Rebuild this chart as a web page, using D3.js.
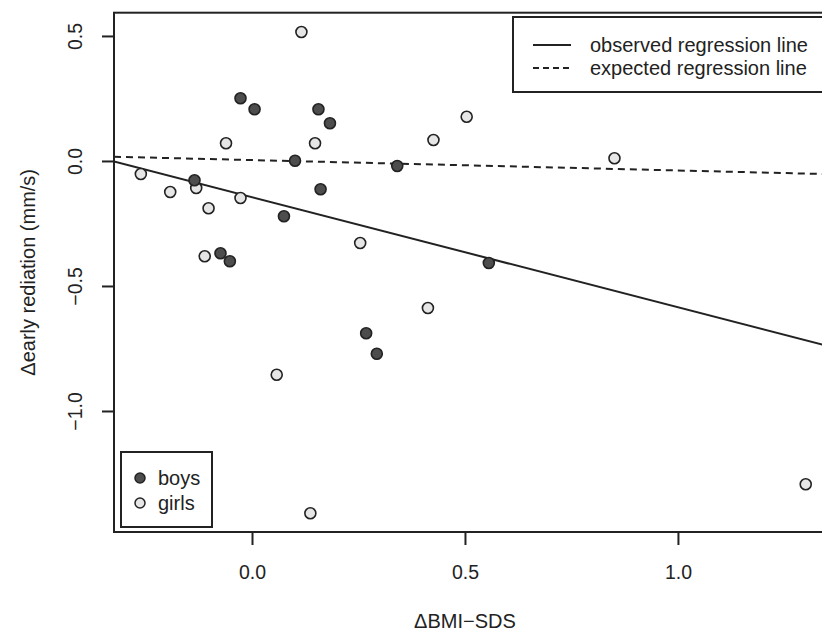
<!DOCTYPE html>
<html>
<head>
<meta charset="utf-8">
<script src="https://cdn.jsdelivr.net/npm/d3@7"></script>
<style>
  body { margin: 0; background: #fff; }
  svg { font-family: "Liberation Sans", Arial, sans-serif; }
</style>
</head>
<body>
<div class="chart"></div>
<script>
// boys
const boysX = [-0.027, 0.006, 0.156, 0.183, 0.101, -0.135, 0.161, 0.341, 0.075, -0.074, -0.052, 0.556, 0.268, 0.293];
const boysY = [0.251, 0.207, 0.207, 0.151, 0.001, -0.077, -0.113, -0.020, -0.221, -0.369, -0.401, -0.408, -0.689, -0.771];
// girls
const girlsX = [0.116, -0.061, 0.148, -0.261, -0.192, -0.131, -0.027, 0.504, 0.426, -0.102, 0.254, -0.111, 0.413, 0.058, 0.137, 0.851, 1.300];
const girlsY = [0.516, 0.071, 0.071, -0.052, -0.124, -0.108, -0.148, 0.177, 0.084, -0.189, -0.328, -0.381, -0.588, -0.855, -1.409, 0.011, -1.293];

// regression lines: intercept, slope
const observedLine = [-0.145, -0.44];
const expectedLine = [0.0035, -0.0415];

const xTicks = [0, 0.5, 1.0];
const yTicks = [0.5, 0, -0.5, -1.0];

const xDomain = [-0.324, 1.357];
const yDomain = [-1.484, 0.593];

const svgwidth = 822, svgheight = 631;
const margin = {top: 12.7, right: -8, bottom: 99, left: 114};
const width = svgwidth - margin.left - margin.right;
const height = svgheight - margin.top - margin.bottom;
const ink = "#222";

const svg = d3.select(".chart").append("svg")
    .attr("width", svgwidth)
    .attr("height", svgheight);

const g = svg.append("g")
    .attr("transform", `translate(${margin.left},${margin.top})`);

const xScale = d3.scaleLinear().domain(xDomain).range([0, width]);
const yScale = d3.scaleLinear().domain(yDomain).range([height, 0]);

g.append("clipPath").attr("id", "plotclip")
  .append("rect").attr("width", width).attr("height", height);

// regression lines
const lineOf = p => xDomain.map(x => [xScale(x), yScale(p[0] + p[1] * x)]);
g.append("path")
    .attr("clip-path", "url(#plotclip)")
    .attr("d", d3.line()(lineOf(observedLine)))
    .attr("stroke", ink).attr("stroke-width", 2).attr("fill", "none");
g.append("path")
    .attr("clip-path", "url(#plotclip)")
    .attr("d", d3.line()(lineOf(expectedLine)))
    .attr("stroke", ink).attr("stroke-width", 2).attr("stroke-dasharray", "7,5").attr("fill", "none");

// points
const girls = girlsX.map((x, i) => ({x: x, y: girlsY[i]}));
const boys = boysX.map((x, i) => ({x: x, y: boysY[i]}));

g.selectAll("circle.girl")
    .data(girls).enter().append("circle")
    .attr("class", "girl")
    .attr("cx", d => xScale(d.x)).attr("cy", d => yScale(d.y))
    .attr("r", 5.5).attr("fill", "#e6e6e6")
    .attr("stroke", ink).attr("stroke-width", 1.6);

g.selectAll("circle.boy")
    .data(boys).enter().append("circle")
    .attr("class", "boy")
    .attr("cx", d => xScale(d.x)).attr("cy", d => yScale(d.y))
    .attr("r", 5.5).attr("fill", "#4d4d4d")
    .attr("stroke", ink).attr("stroke-width", 1.6);

// box
g.append("rect")
    .attr("width", width).attr("height", height)
    .attr("fill", "none").attr("stroke", ink).attr("stroke-width", 2);

// axes
const xAxis = d3.axisBottom(xScale).tickValues(xTicks).tickFormat(d3.format(".1f")).tickSize(13).tickPadding(20);
const yAxis = d3.axisLeft(yScale).tickValues(yTicks).tickFormat(d3.format(".1f")).tickSize(12);

const gx = g.append("g").attr("transform", `translate(0,${height})`).call(xAxis);
gx.select(".domain").remove();
gx.selectAll("line").attr("stroke", ink).attr("stroke-width", 2);
gx.selectAll("text").attr("font-size", 19.5).attr("fill", ink)
  .attr("font-family", "Liberation Sans, Arial, sans-serif");

const gy = g.append("g").call(yAxis);
gy.select(".domain").remove();
gy.selectAll("line").attr("stroke", ink).attr("stroke-width", 2);
gy.selectAll("text").remove();
gy.selectAll(".tick").append("text")
    .attr("transform", "translate(-32,0) rotate(-90)")
    .attr("text-anchor", "middle")
    .attr("font-size", 19.5).attr("fill", ink)
    .attr("font-family", "Liberation Sans, Arial, sans-serif")
    .text(d => d3.format(".1f")(d).replace("-", "\u2212"));

// axis titles
svg.append("text")
    .attr("x", margin.left + xScale(0.5)).attr("y", 628)
    .attr("text-anchor", "middle").attr("font-size", 20).attr("fill", ink)
    .text("\u0394BMI\u2212SDS");

svg.append("text")
    .attr("transform", `translate(35,${margin.top + height / 2}) rotate(-90)`)
    .attr("text-anchor", "middle").attr("font-size", 20).attr("fill", ink)
    .text("\u0394early rediation (mm/s)");

// legend: lines (top right)
const lineLegend = [{label: "observed regression line", dash: null}, {label: "expected regression line", dash: "6,4"}];
const lg = svg.append("g");
lg.append("rect").attr("x", 513).attr("y", 17).attr("width", 330).attr("height", 75)
    .attr("fill", "#fff").attr("stroke", ink).attr("stroke-width", 2);
lineLegend.forEach((d, i) => {
  lg.append("line").attr("x1", 533).attr("x2", 571)
    .attr("y1", 45 + i * 23).attr("y2", 45 + i * 23)
    .attr("stroke", ink).attr("stroke-width", 2)
    .attr("stroke-dasharray", d.dash);
  lg.append("text").attr("x", 590).attr("y", 52 + i * 23)
    .attr("font-size", 20).attr("fill", ink).text(d.label);
});

// legend: points (bottom left)
const pointLegend = [{label: "boys", fill: "#4d4d4d"}, {label: "girls", fill: "#e6e6e6"}];
const pg = svg.append("g");
pg.append("rect").attr("x", 121).attr("y", 452).attr("width", 91).attr("height", 75)
    .attr("fill", "#fff").attr("stroke", ink).attr("stroke-width", 2);
pointLegend.forEach((d, i) => {
  pg.append("circle").attr("cx", 140).attr("cy", 478 + i * 25).attr("r", 5)
    .attr("fill", d.fill).attr("stroke", ink).attr("stroke-width", 1.5);
  pg.append("text").attr("x", 158).attr("y", 485 + i * 25)
    .attr("font-size", 20).attr("fill", ink).text(d.label);
});
</script>
</body>
</html>
